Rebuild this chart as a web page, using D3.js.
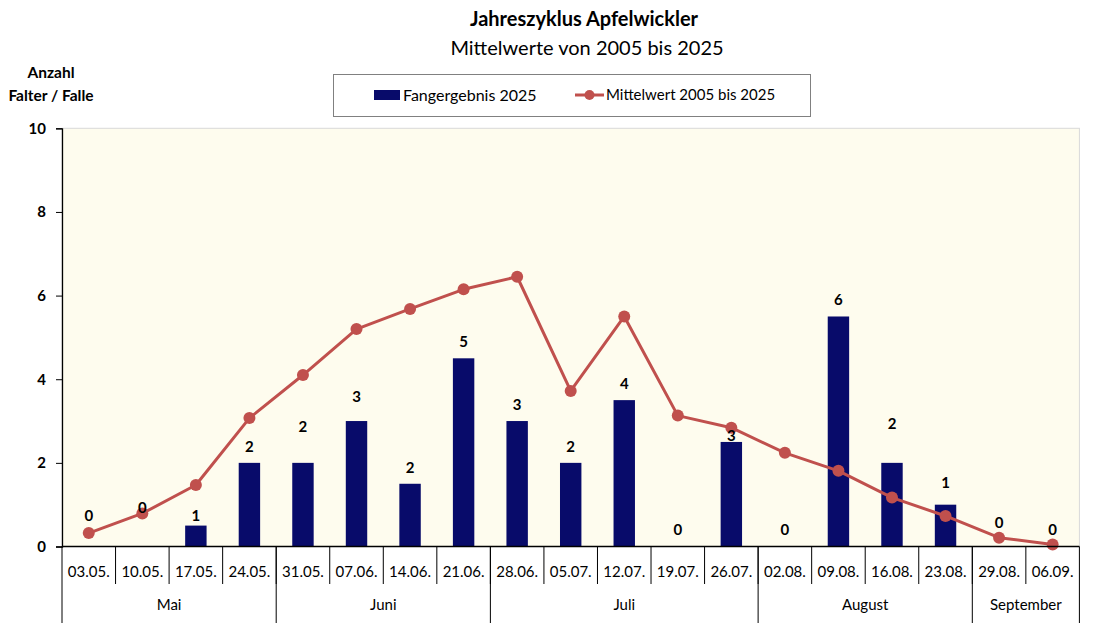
<!DOCTYPE html>
<html><head><meta charset="utf-8">
<script src="https://cdn.jsdelivr.net/npm/d3@7"></script>
<style>
html,body{margin:0;padding:0;background:#fff;}
svg{display:block;font-family:"Lato","Noto Sans",sans-serif;}
</style></head>
<body>
<svg id="chart" width="1094" height="623"></svg>
<script>
// ---- data ----
const dates = ["03.05.","10.05.","17.05.","24.05.","31.05.","07.06.","14.06.","21.06.","28.06.","05.07.","12.07.","19.07.","26.07.","02.08.","09.08.","16.08.","23.08.","29.08.","06.09."];
const months = ["Mai","Juni","Juli","August","September"];
const monthSpans = [4,4,5,4,2];
const catch2025 = [0,0,0.5,2,2,3,1.5,4.5,3,2,3.5,0,2.5,0,5.5,2,1,0,0];
const mean = [0.32,0.79,1.47,3.07,4.10,5.20,5.68,6.15,6.45,3.72,5.50,3.13,2.84,2.24,1.81,1.17,0.73,0.21,0.05];
const labelText = ["0","0","1","2","2","3","2","5","3","2","4","0","3","0","6","2","1","0","0"];
const labelAt = [0.74,0.92,0.74,2.39,2.86,3.57,1.89,4.89,3.40,2.39,3.88,0.39,2.65,0.39,5.89,2.93,1.52,0.56,0.39];
const yTicks = [0,2,4,6,8,10];
const seriesNames = ["Fangergebnis 2025","Mittelwert 2005 bis 2025"];

(function(){
// ---- layout ----
const svg = d3.select("#chart");
const pL = 62, pR = 1079.4, pT = 128.3, pB = 546.5;
const barColor = "#080B6A", lineColor = "#C0504D";

const x = d3.scaleBand().domain(dates).range([pL, pR]).paddingInner(0.6).paddingOuter(0.3);
const cell = d3.scaleBand().domain(dates).range([pL, pR]).padding(0);
const y = d3.scaleLinear().domain([0, 10]).range([pB, pT]);

// plot background
svg.append("rect").attr("x", pL).attr("y", pT).attr("width", pR - pL).attr("height", pB - pT)
  .attr("fill", "#FEFCEE").attr("stroke", "#D9D9D9").attr("stroke-width", 1);

// titles
svg.append("text").attr("x", 584).attr("y", 26).attr("text-anchor", "middle")
  .attr("font-size", 20).attr("font-weight", "bold").attr("fill", "#000").text("Jahreszyklus Apfelwickler");
svg.append("text").attr("x", 587).attr("y", 55).attr("text-anchor", "middle")
  .attr("font-size", 20).attr("fill", "#000").text("Mittelwerte von 2005 bis 2025");

// y title
svg.append("text").attr("x", 51).attr("y", 78).attr("text-anchor", "middle")
  .attr("font-size", 15.5).attr("font-weight", "bold").text("Anzahl");
svg.append("text").attr("x", 51).attr("y", 101).attr("text-anchor", "middle")
  .attr("font-size", 15.5).attr("font-weight", "bold").text("Falter / Falle");

// y axis
const yAxis = svg.append("g").attr("transform", `translate(${pL},0)`)
  .call(d3.axisLeft(y).tickValues(yTicks).tickSize(6).tickPadding(10).tickFormat(d3.format("d")));
yAxis.select(".domain").attr("stroke", "#000").attr("stroke-width", 1.3);
yAxis.selectAll(".tick line").attr("stroke", "#000");
yAxis.selectAll("text").attr("font-size", 15).attr("font-weight", "bold").attr("fill", "#000")
  .attr("font-family", "Lato, sans-serif");

// bars
svg.append("g").selectAll("rect").data(dates).join("rect")
  .attr("x", d => x(d)).attr("width", x.bandwidth())
  .attr("y", (d, i) => y(catch2025[i])).attr("height", (d, i) => y(0) - y(catch2025[i]))
  .attr("fill", barColor);

// line
const line = d3.line().x((d, i) => x(dates[i]) + x.bandwidth() / 2).y(d => y(d));
svg.append("path").datum(mean).attr("d", line).attr("fill", "none")
  .attr("stroke", lineColor).attr("stroke-width", 3).attr("stroke-linejoin", "round");
svg.append("g").selectAll("circle").data(mean).join("circle")
  .attr("cx", (d, i) => x(dates[i]) + x.bandwidth() / 2).attr("cy", d => y(d)).attr("r", 6)
  .attr("fill", lineColor);

// data labels
svg.append("g").selectAll("text").data(labelText).join("text")
  .attr("x", (d, i) => x(dates[i]) + x.bandwidth() / 2)
  .attr("y", (d, i) => y(labelAt[i]))
  .attr("dy", "0.35em").attr("text-anchor", "middle")
  .attr("font-size", 15).attr("font-weight", "bold").attr("fill", "#000").text(d => d);

// x axis baseline
svg.append("line").attr("x1", pL).attr("x2", pR).attr("y1", pB).attr("y2", pB)
  .attr("stroke", "#000").attr("stroke-width", 1.5);

// category separators & labels
const gx = svg.append("g");
dates.forEach((d, i) => {
  if (i > 0) gx.append("line").attr("x1", cell(d)).attr("x2", cell(d)).attr("y1", pB).attr("y2", 584)
    .attr("stroke", "#000").attr("stroke-width", 1);
  gx.append("text").attr("x", cell(d) + cell.bandwidth() / 2).attr("y", 577).attr("text-anchor", "middle")
    .attr("font-size", 15).attr("fill", "#000").text(d);
});
// month groups
let idx = 0;
const bounds = [pL];
months.forEach((m, k) => {
  const start = cell(dates[idx]);
  const endIdx = idx + monthSpans[k] - 1;
  const end = cell(dates[endIdx]) + cell.bandwidth();
  gx.append("text").attr("x", (start + end) / 2).attr("y", 610).attr("text-anchor", "middle")
    .attr("font-size", 15).attr("fill", "#000").text(m);
  bounds.push(end);
  idx = endIdx + 1;
});
bounds.forEach(b => gx.append("line").attr("x1", b).attr("x2", b).attr("y1", pB).attr("y2", 623)
  .attr("stroke", "#000").attr("stroke-width", 1));

// legend
const lg = svg.append("g");
lg.append("rect").attr("x", 333.5).attr("y", 74.5).attr("width", 477).attr("height", 42)
  .attr("fill", "#fff").attr("stroke", "#808080").attr("stroke-width", 1);
lg.append("rect").attr("x", 374).attr("y", 90).attr("width", 26).attr("height", 10).attr("fill", barColor);
lg.append("text").attr("x", 403).attr("y", 95).attr("dy", "0.35em").attr("font-size", 16).text(seriesNames[0]);
lg.append("line").attr("x1", 575).attr("x2", 604).attr("y1", 95).attr("y2", 95)
  .attr("stroke", lineColor).attr("stroke-width", 3);
lg.append("circle").attr("cx", 589.5).attr("cy", 95).attr("r", 5).attr("fill", lineColor);
lg.append("text").attr("x", 606).attr("y", 95).attr("dy", "0.35em").attr("font-size", 15).text(seriesNames[1]);
})();
</script>
</body></html>
